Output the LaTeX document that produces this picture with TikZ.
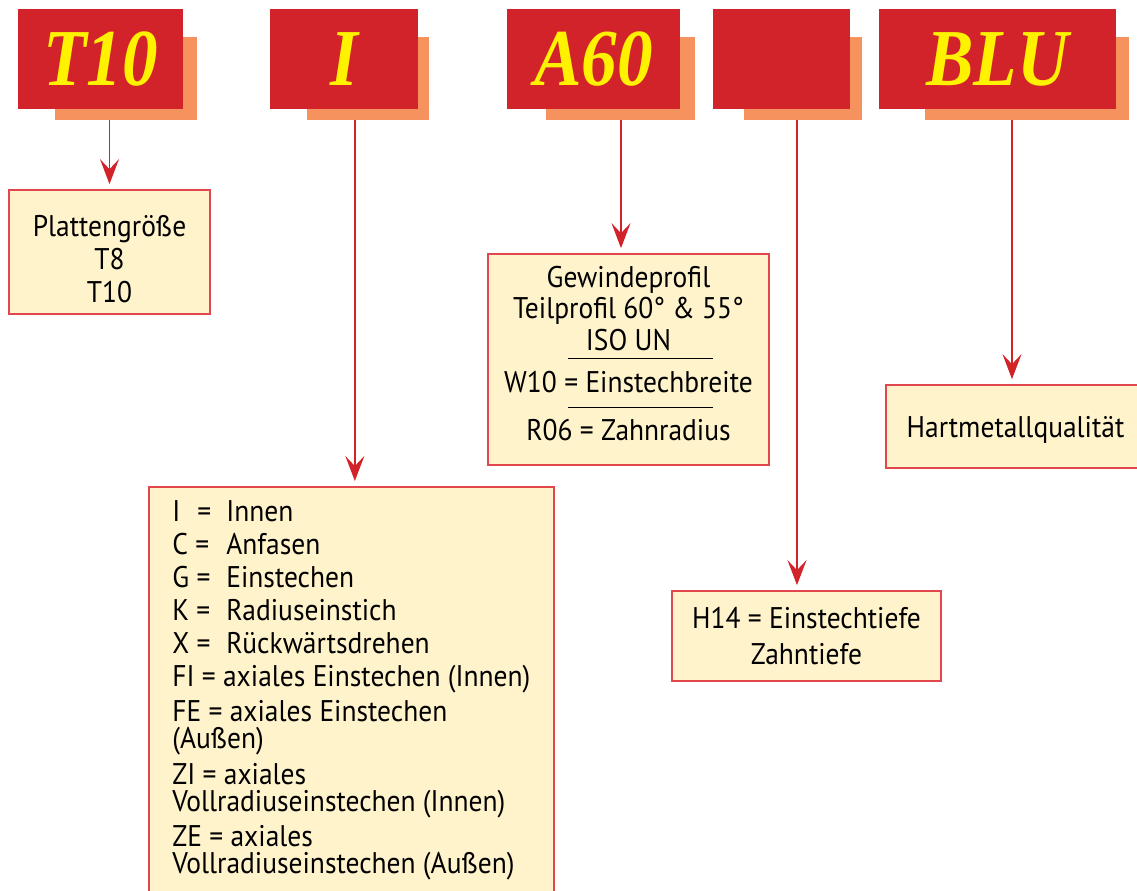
\documentclass[tikz,border=0pt]{standalone}
\usepackage{fontspec}
\setmainfont{PT Sans}[FakeStretch=0.92]
\newfontfamily\codefont[FakeStretch=0.88]{Liberation Serif}
\usetikzlibrary{positioning, arrows.meta, calc}

\definecolor{codered}{HTML}{D2232A}
\definecolor{codeback}{HTML}{F5925E}
\definecolor{codeyellow}{HTML}{FFF200}
\definecolor{infofill}{HTML}{FFF3CC}
\definecolor{infoline}{HTML}{E2474D}

\begin{document}
\begin{tikzpicture}[x=0.02cm, y=-0.02cm,
        code/.style={fill=codered, text=codeyellow, inner sep=0pt, minimum height=2cm,
            font=\codefont\bfseries\itshape\fontsize{46}{46}\selectfont},
        backdrop/.style={fill=codeback, inner sep=0pt, minimum height=1.66cm},
        info/.style={draw=infoline, fill=infofill, line width=1pt, inner sep=0pt, align=center,
            font=\fontsize{17}{18.7}\selectfont},
        divider/.style={draw=black, line width=0.6pt},
        arr/.style={draw=codered, line width=1.1pt, shorten >=0.1cm,
            -{Stealth[length=0.5cm, width=0.38cm, inset=0.2cm]}}]

    \useasboundingbox (0,0) rectangle (1137,890);

    % Schatten der Kopffelder
    \node (sh1) [backdrop, minimum width=2.84cm] at (126,78.5) {};
    \node (sh2) [backdrop, minimum width=2.44cm] at (368,78.5) {};
    \node (sh3) [backdrop, minimum width=2.98cm] at (620.5,78.5) {};
    \node (sh4) [backdrop, minimum width=2.36cm] at (803,78.5) {};
    \node (sh5) [backdrop, minimum width=4.08cm] at (1027,78.5) {};

    % Kopffelder
    \node (size)  [code, minimum width=3.3cm]  at (100.5,59) {T10};
    \node (kind)  [code, minimum width=2.96cm] at (344,59)   {I};
    \node (prof)  [code, minimum width=3.46cm] at (593.5,59) {A60};
    \node (depth) [code, minimum width=2.74cm] at (781.5,59) {};
    \node (grade) [code, minimum width=4.74cm] at (997.5,59) {BLU};

    % Erklaerungen
    \node (box1) [info, minimum width=4.02cm, minimum height=2.48cm] at (109.5,252)
        {\rule{0pt}{0.71cm}Plattengröße\\T8\\T10};
    \node (box2) [info, minimum width=8.1cm, minimum height=8.5cm, anchor=north west] at (148,486) {};
    \node (list) [anchor=base west, inner sep=0pt] at (172,521) {\parbox[t]{7.9cm}{\raggedright
        \fontsize{17}{15.4}\selectfont
        \makebox[1.08cm][l]{\makebox[0.5cm][l]{I}=}Innen\\[0.12cm]
        \makebox[1.08cm][l]{C =}Anfasen\\[0.12cm]
        \makebox[1.08cm][l]{G =}Einstechen\\[0.12cm]
        \makebox[1.08cm][l]{K =}Radiuseinstich\\[0.12cm]
        \makebox[1.08cm][l]{X =}Rückwärtsdrehen\\[0.12cm]
        FI = axiales Einstechen (Innen)\\[0.12cm]
        FE = axiales Einstechen\\
        (Außen)\\[0.12cm]
        ZI = axiales\\
        Vollradiuseinstechen (Innen)\\[0.12cm]
        ZE = axiales\\
        Vollradiuseinstechen (Außen)}};
    \node (box3) [info, minimum width=5.62cm, minimum height=4.22cm,
        font=\fontsize{17}{17.9}\selectfont] at (628.5,359.5)
        {Gewindeprofil\\Teilprofil 60° \& 55°\\ISO UN\\[6pt]W10 = Einstechbreite\\[9.4pt]R06 = Zahnradius\rule[-0.26cm]{0pt}{0.26cm}};
    \node (box4) [info, minimum width=5.38cm, minimum height=1.8cm,
        font=\fontsize{17}{20.4}\selectfont] at (806.5,636)
        {H14 = Einstechtiefe\\Zahntiefe};
    \node (box5) [info, minimum width=5.18cm, minimum height=1.66cm] at (1015.5,426.5)
        {\rule{0pt}{0.55cm}Hartmetallqualität};

    % Trennlinien
    \draw[divider] ($(box3.north west)+(81,105)$) -- ++(145,0);
    \draw[divider] ($(box3.north west)+(81,154)$) -- ++(145,0);

    % Pfeile
    \draw[arr] (box1.north |- sh1.south) -- (box1.north);
    \draw[arr] ($(box2.north |- sh2.south)+(3.5,0)$) -- ($(box2.north)+(3.5,0)$);
    \draw[arr] ($(box3.north |- sh3.south)+(-7.5,0)$) -- ($(box3.north)+(-7.5,0)$);
    \draw[arr] ($(box4.north |- sh4.south)+(-9.5,0)$) -- ($(box4.north)+(-9.5,0)$);
    \draw[arr] ($(box5.north |- sh5.south)+(-3.5,0)$) -- ($(box5.north)+(-3.5,0)$);

\end{tikzpicture}
\end{document}
